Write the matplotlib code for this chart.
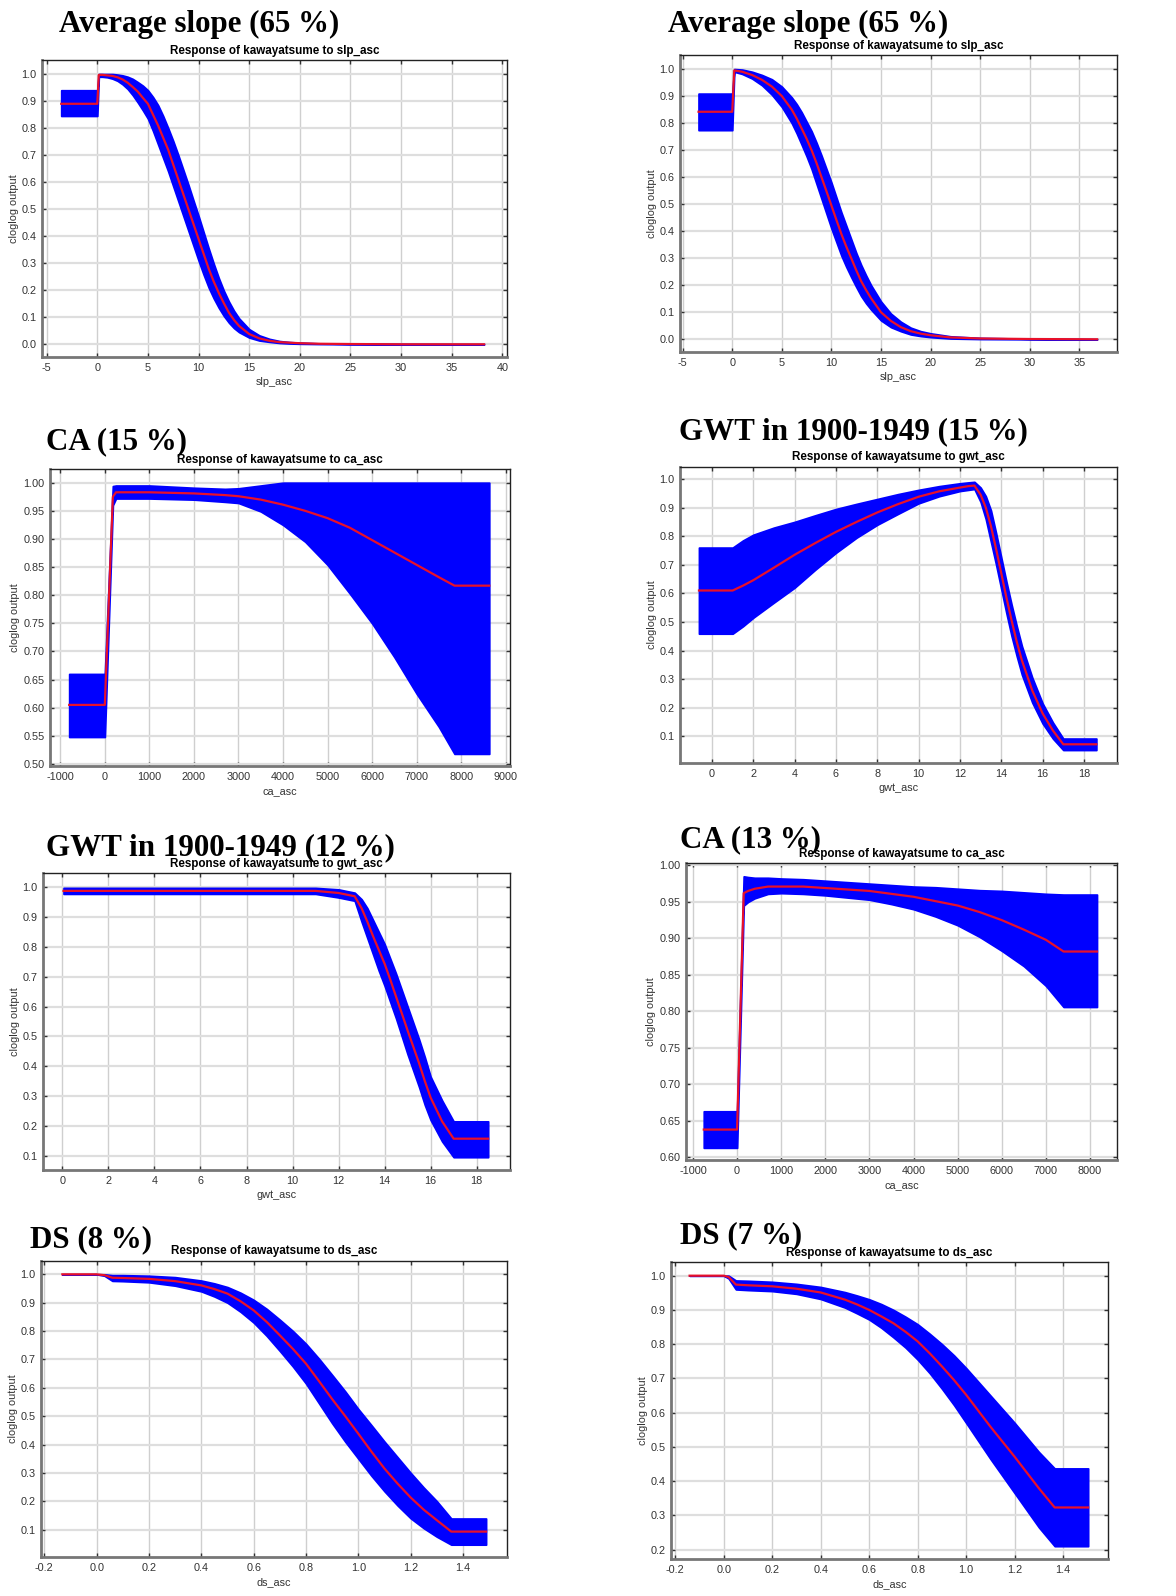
import numpy as np
import matplotlib.pyplot as plt

W, H = 1176, 1596

# --- data (x, mean response, band upper, band lower) ---
# panel 1: Average slope (65 %), left
slp1_x = [-3.56, 0, 0.15, 0.5, 1, 1.5, 2, 2.5, 3, 3.5, 4, 4.5, 5, 5.5, 6, 6.5, 7, 7.5, 8, 8.5, 9, 9.5, 10,
          10.5, 11, 11.5, 12, 12.5, 13, 13.5, 14, 15, 16, 17, 18, 19, 20, 22, 25, 30, 38.2]
slp1_mean = [0.89, 0.89, 0.997, 0.997, 0.995, 0.993, 0.988, 0.98, 0.968, 0.952, 0.935, 0.912, 0.89, 0.85, 0.81,
             0.765, 0.72, 0.665, 0.61, 0.555, 0.50, 0.445, 0.39, 0.335, 0.28, 0.232, 0.19, 0.152, 0.117, 0.09,
             0.068, 0.038, 0.022, 0.013, 0.008, 0.006, 0.004, 0.002, 0.001, 0.0, 0.0]
slp1_hi = [0.94, 0.94, 1.0, 1.0, 1.0, 1.0, 0.998, 0.995, 0.99, 0.982, 0.97, 0.957, 0.94, 0.915, 0.885,
           0.845, 0.80, 0.752, 0.70, 0.645, 0.59, 0.532, 0.475, 0.415, 0.355, 0.298, 0.245, 0.198, 0.158, 0.124,
           0.096, 0.056, 0.033, 0.02, 0.012, 0.008, 0.006, 0.003, 0.002, 0.001, 0.0]
slp1_lo = [0.845, 0.845, 0.99, 0.99, 0.988, 0.983, 0.975, 0.962, 0.945, 0.922, 0.895, 0.866, 0.835, 0.79, 0.74,
           0.69, 0.64, 0.585, 0.53, 0.475, 0.42, 0.365, 0.31, 0.258, 0.21, 0.17, 0.135, 0.105, 0.08, 0.06,
           0.045, 0.025, 0.014, 0.009, 0.005, 0.003, 0.002, 0.001, 0.0, 0.0, 0.0]

# panel 2: Average slope (65 %), right
slp2_x = [-3.4, 0, 0.2, 1, 2, 3, 4, 5, 6, 6.5, 7, 7.5, 8, 8.5, 9, 9.5, 10, 10.5, 11, 11.5, 12, 12.5, 13,
          13.5, 14, 15, 16, 17, 18, 19, 20, 22, 25, 30, 36.8]
slp2_mean = [0.842, 0.842, 0.995, 0.99, 0.978, 0.96, 0.935, 0.90, 0.85, 0.817, 0.78, 0.742, 0.70, 0.652, 0.60,
             0.548, 0.495, 0.442, 0.39, 0.343, 0.30, 0.256, 0.215, 0.182, 0.152, 0.10, 0.068, 0.045, 0.03,
             0.021, 0.015, 0.007, 0.003, 0.001, 0.0]
slp2_hi = [0.909, 0.909, 1.0, 0.998, 0.99, 0.978, 0.962, 0.935, 0.895, 0.87, 0.84, 0.805, 0.77, 0.727, 0.68,
           0.63, 0.58, 0.525, 0.47, 0.42, 0.37, 0.32, 0.275, 0.236, 0.20, 0.14, 0.095, 0.065, 0.043,
           0.03, 0.022, 0.011, 0.005, 0.002, 0.0]
slp2_lo = [0.774, 0.774, 0.99, 0.982, 0.965, 0.94, 0.905, 0.86, 0.80, 0.762, 0.72, 0.677, 0.63, 0.575, 0.52,
           0.465, 0.41, 0.36, 0.31, 0.268, 0.23, 0.194, 0.16, 0.133, 0.11, 0.07, 0.045, 0.03, 0.018,
           0.012, 0.008, 0.003, 0.001, 0.0, 0.0]

# panel 3: CA (15 %)
ca1_x = [-800, 0, 180, 250, 1000, 2000, 2700, 3000, 3500, 4000, 4500, 5000, 5500, 6000, 6500, 7000, 7500, 7850, 8630]
ca1_mean = [0.605, 0.605, 0.975, 0.983, 0.983, 0.981, 0.978, 0.976, 0.97, 0.961, 0.95, 0.937, 0.92, 0.898, 0.876,
            0.854, 0.832, 0.817, 0.817]
ca1_hi = [0.66, 0.66, 0.994, 0.995, 0.995, 0.991, 0.989, 0.99, 0.995, 1.0, 1.0, 1.0, 1.0, 1.0, 1.0, 1.0, 1.0, 1.0, 1.0]
ca1_lo = [0.548, 0.548, 0.96, 0.972, 0.972, 0.97, 0.966, 0.964, 0.949, 0.925, 0.895, 0.854, 0.803, 0.75, 0.69,
          0.625, 0.566, 0.518, 0.518]

# panel 4: GWT in 1900-1949 (15 %)
gwt1_x = [-0.63, 1.0, 1.5, 2, 3, 4, 5, 6, 7, 8, 9, 10, 11, 12, 12.4, 12.7, 13, 13.25, 13.5, 13.75,
          14, 14.25, 14.5, 14.75, 15, 15.5, 16, 16.5, 17, 18.6]
gwt1_mean = [0.61, 0.61, 0.627, 0.646, 0.69, 0.735, 0.776, 0.815, 0.85, 0.883, 0.912, 0.938, 0.957, 0.97, 0.975,
             0.977, 0.945, 0.9, 0.835, 0.755, 0.67, 0.585, 0.505, 0.43, 0.365, 0.26, 0.18, 0.12, 0.072, 0.072]
gwt1_hi = [0.76, 0.76, 0.785, 0.805, 0.83, 0.85, 0.873, 0.895, 0.913, 0.93, 0.947, 0.962, 0.975, 0.985, 0.988,
           0.99, 0.97, 0.94, 0.89, 0.81, 0.725, 0.64, 0.56, 0.485, 0.415, 0.305, 0.215, 0.148, 0.092, 0.092]
gwt1_lo = [0.459, 0.459, 0.485, 0.515, 0.568, 0.62, 0.683, 0.742, 0.795, 0.84, 0.878, 0.915, 0.94, 0.958, 0.962,
           0.965, 0.92, 0.86, 0.78, 0.70, 0.615, 0.53, 0.45, 0.38, 0.315, 0.218, 0.145, 0.092, 0.052, 0.052]

# panel 5: GWT in 1900-1949 (12 %)
gwt2_x = [0.05, 11, 12, 12.7, 13, 13.25, 13.5, 13.75, 14, 14.25, 14.5, 14.75, 15, 15.25, 15.5, 15.75, 16, 16.5, 17, 18.5]
gwt2_mean = [0.988, 0.988, 0.981, 0.97, 0.93, 0.885, 0.836, 0.79, 0.744, 0.69, 0.633, 0.577, 0.52, 0.465, 0.41,
             0.35, 0.295, 0.215, 0.157, 0.157]
gwt2_hi = [0.998, 0.998, 0.993, 0.982, 0.96, 0.93, 0.89, 0.85, 0.81, 0.76, 0.71, 0.655, 0.60, 0.545, 0.49,
           0.43, 0.365, 0.285, 0.215, 0.215]
gwt2_lo = [0.978, 0.978, 0.966, 0.955, 0.885, 0.83, 0.775, 0.72, 0.67, 0.615, 0.56, 0.5, 0.44, 0.385, 0.33,
           0.27, 0.22, 0.148, 0.095, 0.095]

# panel 6: CA (13 %)
ca2_x = [-755, 0, 150, 250, 400, 700, 1000, 1500, 2000, 2500, 3000, 3500, 4000, 4500, 5000, 5500, 6000, 6500,
         7000, 7400, 8157]
ca2_mean = [0.638, 0.638, 0.962, 0.965, 0.968, 0.971, 0.971, 0.971, 0.969, 0.967, 0.965, 0.961, 0.957, 0.951,
            0.945, 0.936, 0.925, 0.912, 0.898, 0.882, 0.882]
ca2_hi = [0.663, 0.663, 0.985, 0.984, 0.983, 0.983, 0.982, 0.981, 0.979, 0.977, 0.975, 0.973, 0.971, 0.97,
          0.968, 0.966, 0.965, 0.963, 0.961, 0.96, 0.96]
ca2_lo = [0.613, 0.613, 0.945, 0.95, 0.955, 0.961, 0.962, 0.961, 0.959, 0.956, 0.953, 0.947, 0.94, 0.93,
          0.918, 0.902, 0.883, 0.862, 0.835, 0.806, 0.806]

# panel 7: DS (8 %)
ds1_x = [-0.131, 0.0, 0.03, 0.06, 0.1, 0.2, 0.3, 0.4, 0.45, 0.5, 0.55, 0.6, 0.65, 0.7, 0.75, 0.8, 0.85, 0.9,
         0.95, 1.0, 1.05, 1.1, 1.15, 1.2, 1.25, 1.3, 1.355, 1.488]
ds1_mean = [1.0, 1.0, 0.997, 0.988, 0.987, 0.984, 0.976, 0.961, 0.948, 0.932, 0.905, 0.873, 0.832, 0.785, 0.737,
            0.685, 0.623, 0.56, 0.5, 0.438, 0.375, 0.315, 0.262, 0.213, 0.17, 0.133, 0.093, 0.093]
ds1_hi = [1.0, 1.0, 1.0, 0.997, 0.997, 0.995, 0.99, 0.978, 0.968, 0.955, 0.935, 0.91, 0.878, 0.84, 0.8,
          0.755, 0.702, 0.645, 0.587, 0.525, 0.468, 0.41, 0.355, 0.30, 0.248, 0.2, 0.139, 0.139]
ds1_lo = [1.0, 1.0, 0.995, 0.977, 0.976, 0.972, 0.96, 0.94, 0.922, 0.90, 0.868, 0.83, 0.783, 0.73, 0.675,
          0.615, 0.545, 0.475, 0.41, 0.35, 0.29, 0.235, 0.185, 0.14, 0.105, 0.075, 0.047, 0.047]

# panel 8: DS (7 %)
ds2_x = [-0.141, 0.0, 0.02, 0.05, 0.1, 0.2, 0.3, 0.4, 0.5, 0.55, 0.6, 0.65, 0.7, 0.75, 0.8, 0.85, 0.9, 0.95,
         1.0, 1.1, 1.2, 1.3, 1.365, 1.503]
ds2_mean = [1.0, 1.0, 0.996, 0.974, 0.972, 0.969, 0.962, 0.951, 0.93, 0.916, 0.9, 0.881, 0.861, 0.836, 0.808,
            0.773, 0.735, 0.695, 0.652, 0.559, 0.471, 0.379, 0.323, 0.323]
ds2_hi = [1.0, 1.0, 1.0, 0.986, 0.985, 0.982, 0.976, 0.967, 0.952, 0.942, 0.931, 0.917, 0.9, 0.88, 0.858,
          0.83, 0.80, 0.767, 0.73, 0.65, 0.57, 0.485, 0.437, 0.437]
ds2_lo = [1.0, 1.0, 0.992, 0.96, 0.958, 0.955, 0.947, 0.932, 0.907, 0.89, 0.872, 0.848, 0.82, 0.79, 0.755,
          0.715, 0.67, 0.622, 0.57, 0.465, 0.365, 0.265, 0.21, 0.21]

titles = ["Average slope (65 %)", "Average slope (65 %)", "CA (15 %)", "GWT in 1900-1949 (15 %)",
          "GWT in 1900-1949 (12 %)", "CA (13 %)", "DS (8 %)", "DS (7 %)"]
variables = ["slp_asc", "slp_asc", "ca_asc", "gwt_asc", "gwt_asc", "ca_asc", "ds_asc", "ds_asc"]

slp1_xticks = list(range(-5, 41, 5))
slp2_xticks = list(range(-5, 36, 5))
ca_xticks1 = list(range(-1000, 9001, 1000))
ca_xticks2 = list(range(-1000, 8001, 1000))
gwt_xticks = list(range(0, 19, 2))
ds_xticks = [-0.2, 0.0, 0.2, 0.4, 0.6, 0.8, 1.0, 1.2, 1.4]
yticks_0 = [0.0, 0.1, 0.2, 0.3, 0.4, 0.5, 0.6, 0.7, 0.8, 0.9, 1.0]
yticks_ca1 = [0.50, 0.55, 0.60, 0.65, 0.70, 0.75, 0.80, 0.85, 0.90, 0.95, 1.00]
yticks_ca2 = [0.60, 0.65, 0.70, 0.75, 0.80, 0.85, 0.90, 0.95, 1.00]

# panel layout in pixels: axes (left, top, right, bottom), limits, title origin
panels = [
    dict(data=(slp1_x, slp1_mean, slp1_hi, slp1_lo), box=(42, 60, 507, 357), xlim=(-5.46, 40.46), ylim=(-0.047, 1.052),
         xt=slp1_xticks, xf="%d", yt=yticks_0, yf="%.1f", tpos=(59, 32), sub_y=51),
    dict(data=(slp2_x, slp2_mean, slp2_hi, slp2_lo), box=(680, 55, 1117, 352), xlim=(-5.27, 38.8), ylim=(-0.047, 1.052),
         xt=slp2_xticks, xf="%d", yt=yticks_0, yf="%.1f", tpos=(668, 32), sub_y=46),
    dict(data=(ca1_x, ca1_mean, ca1_hi, ca1_lo), box=(50, 469, 510, 766), xlim=(-1231, 9096), ylim=(0.4964, 1.0244),
         xt=ca_xticks1, xf="%d", yt=yticks_ca1, yf="%.2f", tpos=(46, 449), sub_y=460),
    dict(data=(gwt1_x, gwt1_mean, gwt1_hi, gwt1_lo), box=(680, 467, 1117, 763), xlim=(-1.548, 19.6), ylim=(0.0066, 1.042),
         xt=gwt_xticks, xf="%d", yt=yticks_0[1:], yf="%.1f", tpos=(679, 439), sub_y=457),
    dict(data=(gwt2_x, gwt2_mean, gwt2_hi, gwt2_lo), box=(43, 873, 510, 1170), xlim=(-0.843, 19.45), ylim=(0.052, 1.048),
         xt=gwt_xticks, xf="%d", yt=yticks_0[1:], yf="%.1f", tpos=(46, 855), sub_y=864),
    dict(data=(ca2_x, ca2_mean, ca2_hi, ca2_lo), box=(686, 863, 1117, 1160), xlim=(-1158, 8611), ylim=(0.5963, 1.0033),
         xt=ca_xticks2, xf="%d", yt=yticks_ca2, yf="%.2f", tpos=(680, 847), sub_y=854),
    dict(data=(ds1_x, ds1_mean, ds1_hi, ds1_lo), box=(41, 1261, 507, 1557), xlim=(-0.2126, 1.568), ylim=(0.0034, 1.047),
         xt=ds_xticks, xf="%.1f", yt=yticks_0[1:], yf="%.1f", tpos=(30, 1247), sub_y=1251),
    dict(data=(ds2_x, ds2_mean, ds2_hi, ds2_lo), box=(671, 1262, 1108, 1559), xlim=(-0.2177, 1.585), ylim=(0.1725, 1.04),
         xt=ds_xticks, xf="%.1f", yt=yticks_0[2:], yf="%.1f", tpos=(680, 1243), sub_y=1253),
]


def draw_panel(fig, p, title, var):
    l, t, r, b = p["box"]
    ax = fig.add_axes([l / W, 1 - b / H, (r - l) / W, (b - t) / H])
    x, mean, hi, lo = p["data"]
    ax.fill_between(x, lo, hi, color="#0000ff", lw=1.3, edgecolor="#0000ff", zorder=3)
    ax.plot(x, mean, color="#e8102a", lw=1.6, zorder=4)
    ax.set_xlim(*p["xlim"])
    ax.set_ylim(*p["ylim"])
    ax.set_xticks(p["xt"])
    ax.set_xticklabels([p["xf"] % v for v in p["xt"]])
    ax.set_yticks(p["yt"])
    ax.set_yticklabels([p["yf"] % v for v in p["yt"]])
    ax.xaxis.grid(True, color="#cfcfcf", lw=1.0, zorder=0)
    ax.yaxis.grid(True, color="#dedede", lw=1.6, zorder=0)
    ax.set_axisbelow(True)
    ax.tick_params(direction="in", length=3, width=1, colors="#333333", labelcolor="#333333",
                   labelsize=7.8, top=True, right=True, pad=4)
    for side in ("left", "bottom"):
        ax.spines[side].set_color("#777777")
        ax.spines[side].set_linewidth(2.0)
    for side in ("top", "right"):
        ax.spines[side].set_color("#222222")
        ax.spines[side].set_linewidth(1.0)
    ax.set_xlabel(var, fontsize=7.8, color="#333333", labelpad=3)
    ax.set_ylabel("cloglog output", fontsize=7.8, color="#333333", labelpad=2)
    for lab in ax.get_xticklabels() + ax.get_yticklabels():
        lab.set_family("Liberation Sans")
    ax.xaxis.label.set_family("Liberation Sans")
    ax.yaxis.label.set_family("Liberation Sans")

    fig.text(((l + r) / 2) / W, 1 - p["sub_y"] / H, "Response of kawayatsume to " + var,
             ha="center", va="center", fontsize=8.4, fontweight="bold", family="Liberation Sans", zorder=5)
    tx, ty = p["tpos"]
    fig.text(tx / W, 1 - ty / H, title, ha="left", va="baseline", fontsize=22.3,
             fontweight="bold", family="Liberation Serif", zorder=6)


def main():
    fig = plt.figure(figsize=(W / 100, H / 100), dpi=100)
    fig.patch.set_facecolor("white")
    for p, title, var in zip(panels, titles, variables):
        draw_panel(fig, p, title, var)
    fig.savefig("out.png", dpi=100, facecolor="white")


if __name__ == "__main__":
    main()
